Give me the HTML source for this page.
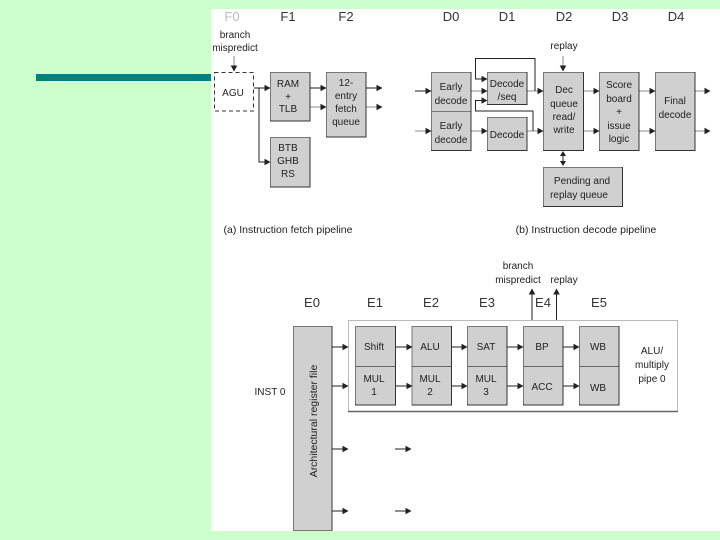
<!DOCTYPE html>
<html><head><meta charset="utf-8"><style>
html,body{margin:0;padding:0;background:#ccffcc;width:720px;height:540px;overflow:hidden}
svg{display:block;position:absolute;left:0;top:0;filter:blur(0.3px)}
text{font-family:"Liberation Sans",sans-serif;font-size:10px;fill:#222;text-anchor:middle}
.h{font-size:13px;fill:#333}
.c{font-size:10.500px}
.b{fill:#d0d0d0;stroke:#777;stroke-width:1}
.l{stroke:#222;stroke-width:1;fill:none}
.g{stroke:#888;stroke-width:1;fill:none}
.a{fill:#222}
.e{stroke:#333;stroke-width:1;fill:none}
</style></head><body>
<svg width="720" height="540" viewBox="0 0 720 540">
<defs>
<marker id="m" markerUnits="userSpaceOnUse" markerWidth="7" markerHeight="7" refX="5.500" refY="3.500" orient="auto"><path d="M0,0.200L6,3.500L0,6.800Z" fill="#222"/></marker>
</defs>
<rect x="36" y="74" width="175" height="7" fill="#008080"/>
<rect x="211" y="9" width="509" height="522" fill="#fff"/>

<!-- stage labels -->
<text class="h" x="232" y="21" style="fill:#bbb">F0</text>
<text class="h" x="288" y="21">F1</text>
<text class="h" x="346" y="21">F2</text>
<text class="h" x="451" y="21">D0</text>
<text class="h" x="507" y="21">D1</text>
<text class="h" x="564" y="21">D2</text>
<text class="h" x="620" y="21">D3</text>
<text class="h" x="676" y="21">D4</text>
<text class="h" x="312" y="307">E0</text>
<text class="h" x="375" y="307">E1</text>
<text class="h" x="431" y="307">E2</text>
<text class="h" x="487" y="307">E3</text>
<text class="h" x="543" y="307">E4</text>
<text class="h" x="599" y="307">E5</text>

<!-- F section -->
<text x="235" y="38">branch</text>
<text x="235" y="51">mispredict</text>
<line class="g" x1="234" y1="56" x2="234" y2="71" marker-end="url(#m)"/>
<rect x="214.500" y="72.500" width="39" height="38.500" fill="#fff" stroke="#333" stroke-dasharray="4 3"/>
<text x="233" y="96">AGU</text>
<rect class="b" x="270.500" y="72.500" width="39.500" height="48.500"/>
<text x="288" y="87">RAM</text><text x="288" y="100">+</text><text x="288" y="112">TLB</text>
<rect class="b" x="326.500" y="72.500" width="39.500" height="64.500"/>
<text x="346" y="86">12-</text><text x="346" y="99">entry</text><text x="346" y="112">fetch</text><text x="346" y="125">queue</text>
<rect class="b" x="270.500" y="137.500" width="39.500" height="49.500"/>
<text x="288" y="151">BTB</text><text x="288" y="164">GHB</text><text x="288" y="177">RS</text>
<line class="l" x1="254" y1="88" x2="270" y2="88" marker-end="url(#m)"/>
<path class="l" d="M259,88V162H270" marker-end="url(#m)"/>
<line class="l" x1="310" y1="88" x2="326" y2="88" marker-end="url(#m)"/>
<line class="g" x1="310" y1="107" x2="326" y2="107" marker-end="url(#m)"/>
<line class="l" x1="366" y1="88" x2="382" y2="88" marker-end="url(#m)"/>
<line class="g" x1="366" y1="107" x2="382" y2="107" marker-end="url(#m)"/>
<text class="c" x="288" y="233">(a) Instruction fetch pipeline</text>

<!-- D section -->
<text x="564" y="49">replay</text>
<line class="g" x1="563" y1="56" x2="563" y2="71" marker-end="url(#m)"/>
<rect class="b" x="431.500" y="72.500" width="39.500" height="39"/>
<rect class="b" x="431.500" y="111.500" width="39.500" height="39"/>
<text x="451" y="90">Early</text><text x="451" y="104">decode</text>
<text x="451" y="129">Early</text><text x="451" y="143">decode</text>
<rect class="b" x="487.500" y="72.500" width="39.500" height="32"/>
<text x="507" y="87">Decode</text><text x="507" y="100">/seq</text>
<rect class="b" x="487.500" y="117.500" width="39.500" height="33"/>
<text x="507" y="138">Decode</text>
<rect class="b" x="543.500" y="72.500" width="40" height="78"/>
<text x="564" y="93">Dec</text><text x="564" y="107">queue</text><text x="564" y="120">read/</text><text x="564" y="133">write</text>
<rect class="b" x="599.500" y="72.500" width="39.500" height="78"/>
<text x="619" y="88">Score</text><text x="619" y="102">board</text><text x="619" y="115">+</text><text x="619" y="129">issue</text><text x="619" y="142">logic</text>
<rect class="b" x="655.500" y="72.500" width="39.500" height="78"/>
<text x="675" y="104">Final</text><text x="675" y="118">decode</text>
<rect class="b" x="543.500" y="167.500" width="79" height="39"/>
<text x="582" y="184">Pending and</text><text x="579" y="198">replay queue</text>
<line class="l" x1="415" y1="91" x2="431" y2="91" marker-end="url(#m)"/>
<line class="g" x1="415" y1="131" x2="431" y2="131" marker-end="url(#m)"/>
<line class="g" x1="471" y1="91" x2="487" y2="91" marker-end="url(#m)"/>
<line class="g" x1="471" y1="131" x2="487" y2="131" marker-end="url(#m)"/>
<line class="g" x1="527" y1="91" x2="543" y2="91" marker-end="url(#m)"/>
<line class="g" x1="527" y1="131" x2="543" y2="131" marker-end="url(#m)"/>
<path class="l" d="M535,91V58.500H475.500V79H487" marker-end="url(#m)"/>
<path class="l" d="M533,131V111H475.500V100.500H487" marker-end="url(#m)"/>
<line class="g" x1="584" y1="91" x2="599" y2="91" marker-end="url(#m)"/>
<line class="g" x1="584" y1="131" x2="599" y2="131" marker-end="url(#m)"/>
<line class="g" x1="639" y1="91" x2="655" y2="91" marker-end="url(#m)"/>
<line class="g" x1="639" y1="131" x2="655" y2="131" marker-end="url(#m)"/>
<line class="g" x1="695" y1="91" x2="710" y2="91" marker-end="url(#m)"/>
<line class="g" x1="695" y1="131" x2="710" y2="131" marker-end="url(#m)"/>
<path class="a" d="M563,151L566,156H560Z"/><path class="a" d="M563,166L566,161H560Z"/>
<line class="l" x1="563" y1="155" x2="563" y2="162"/>
<text class="c" x="586" y="233">(b) Instruction decode pipeline</text>

<!-- E section -->
<rect x="348.500" y="320.500" width="329" height="91" fill="#fff" stroke="#bbb"/>
<line x1="348" y1="411.500" x2="678" y2="411.500" stroke="#666" stroke-width="1.500"/>
<rect class="b" x="293.500" y="326.500" width="38.500" height="204"/>
<text x="0" y="0" transform="translate(317,421) rotate(-90)" style="font-size:10.500px">Architectural register file</text>
<text x="270" y="395">INST 0</text>
<g>
<rect class="b" x="355.500" y="326.500" width="40" height="78.500"/>
<rect class="b" x="412" y="326.500" width="39.500" height="78.500"/>
<rect class="b" x="467.500" y="326.500" width="39.500" height="78.500"/>
<rect class="b" x="523.500" y="326.500" width="39.500" height="78.500"/>
<rect class="b" x="579.500" y="326.500" width="39.500" height="78.500"/>
<path d="M355,366.500H396M412,366.500H451M467,366.500H507M523,366.500H563M579,366.500H619" stroke="#666" fill="none"/>
</g>
<!-- darker right and bottom box edges -->
<path class="e" d="M310,72V121H270M366,72V137H326M310,137V187H270M471,72V150.500H431M527,72V104.500H487M527,117V150.500H487M583.500,72V150.500H543M639,72V150.500H599M695,72V150.500H655M622.500,167V206.500H543M332,326V530.500M395.500,326V405H355M451.500,326V405H412M507,326V405H467M563,326V405H523M619,326V405H579"/>
<text x="374" y="350">Shift</text><text x="374" y="382">MUL</text><text x="374" y="395">1</text>
<text x="430" y="350">ALU</text><text x="430" y="382">MUL</text><text x="430" y="395">2</text>
<text x="486" y="350">SAT</text><text x="486" y="382">MUL</text><text x="486" y="395">3</text>
<text x="542" y="350">BP</text><text x="542" y="390">ACC</text>
<text x="598" y="350">WB</text><text x="598" y="391">WB</text>
<text x="652" y="354">ALU/</text><text x="652" y="368">multiply</text><text x="652" y="382">pipe 0</text>
<line class="l" x1="332" y1="347" x2="348" y2="347" marker-end="url(#m)"/>
<line class="l" x1="332" y1="386" x2="348" y2="386" marker-end="url(#m)"/>
<line class="l" x1="396" y1="347" x2="412" y2="347" marker-end="url(#m)"/>
<line class="l" x1="396" y1="386" x2="412" y2="386" marker-end="url(#m)"/>
<line class="l" x1="451" y1="347" x2="467" y2="347" marker-end="url(#m)"/>
<line class="l" x1="451" y1="386" x2="467" y2="386" marker-end="url(#m)"/>
<line class="l" x1="507" y1="347" x2="523" y2="347" marker-end="url(#m)"/>
<line class="l" x1="507" y1="386" x2="523" y2="386" marker-end="url(#m)"/>
<line class="l" x1="563" y1="347" x2="579" y2="347" marker-end="url(#m)"/>
<line class="l" x1="563" y1="386" x2="579" y2="386" marker-end="url(#m)"/>
<line class="l" x1="532" y1="320" x2="532" y2="289" marker-end="url(#m)"/>
<line class="l" x1="556.500" y1="320" x2="556.500" y2="289" marker-end="url(#m)"/>
<text x="518" y="269">branch</text><text x="518" y="283">mispredict</text><text x="564" y="283">replay</text>
<line class="l" x1="332" y1="449" x2="348" y2="449" marker-end="url(#m)"/>
<line class="l" x1="395" y1="449" x2="411" y2="449" marker-end="url(#m)"/>
<line class="l" x1="332" y1="511" x2="348" y2="511" marker-end="url(#m)"/>
<line class="l" x1="395" y1="511" x2="411" y2="511" marker-end="url(#m)"/>
</svg>
</body></html>
